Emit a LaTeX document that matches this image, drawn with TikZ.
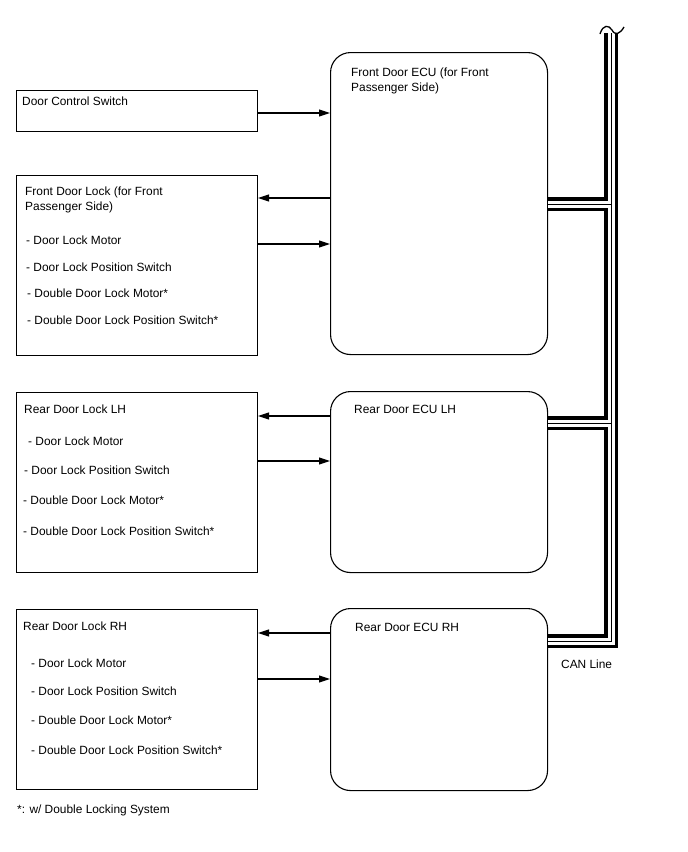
\documentclass[tikz,border=0pt]{standalone}
\usepackage{fontspec}
\setmainfont{Liberation Sans}
\usetikzlibrary{arrows.meta,calc}
\begin{document}
\begin{tikzpicture}[x=1pt,y=-1pt,
  box/.style={draw,line width=1.1pt,minimum width=241pt,anchor=north west,inner sep=0pt},
  ecu/.style={draw,line width=1.1pt,rounded corners=20pt,minimum width=217pt,anchor=north west,inner sep=0pt},
  txt/.style={anchor=base west,inner sep=0pt,font=\fontsize{11.9}{14}\selectfont},
  arr/.style={line width=1.1pt,-{Triangle[length=11pt,width=7pt]}},
  busblack/.style={line width=14.5pt,line join=miter},
  buswhite/.style={white,line width=7pt,line join=miter},
  busthin/.style={line width=0.9pt,line join=miter}
]
\useasboundingbox (0,0) rectangle (688,852);
% boxes
\node[box,minimum height=41pt] (dcs) at (16,90) {};
\node[box,minimum height=180pt] (fdl) at (16,175) {};
\node[box,minimum height=180pt] (rdll) at (16,392) {};
\node[box,minimum height=180pt] (rdlr) at (16,609) {};
\node[ecu,minimum height=302pt] (fecu) at (330,52) {};
\node[ecu,minimum height=181pt] (recul) at (330,391) {};
\node[ecu,minimum height=182pt] (recur) at (330,608) {};
% texts
\node[txt] (t1) at (22,105) {Door Control Switch};
\node[txt] (t2) at (25,195) {Front Door Lock (for Front};
\node[txt] (t3) at (25,210) {Passenger Side)};
\node[txt] (t4) at (26,244) {- Door Lock Motor};
\node[txt] (t5) at (26,271) {- Door Lock Position Switch};
\node[txt] (t6) at (27,297) {- Double Door Lock Motor*};
\node[txt] (t7) at (27,324) {- Double Door Lock Position Switch*};
\node[txt] (e1) at (351,76) {Front Door ECU (for Front};
\node[txt] (e2) at (351,91) {Passenger Side)};
\node[txt] (l1) at (24,413) {Rear Door Lock LH};
\node[txt] (l2) at (28,445) {- Door Lock Motor};
\node[txt] (l3) at (24,474) {- Door Lock Position Switch};
\node[txt] (l4) at (23,504) {- Double Door Lock Motor*};
\node[txt] (l5) at (23,535) {- Double Door Lock Position Switch*};
\node[txt] (e3) at (354,413) {Rear Door ECU LH};
\node[txt] (r1) at (23,630) {Rear Door Lock RH};
\node[txt] (r2) at (31,667) {- Door Lock Motor};
\node[txt] (r3) at (31,695) {- Door Lock Position Switch};
\node[txt] (r4) at (31,724) {- Double Door Lock Motor*};
\node[txt] (r5) at (31,754) {- Double Door Lock Position Switch*};
\node[txt] (e4) at (355,631) {Rear Door ECU RH};
\node[txt] (can) at (561,668) {CAN Line};
\node[txt] (fn) at (17,813) {*: w/ Double Locking System};
% arrows
\draw[arr] (dcs.east |- 0,113) -- (fecu.west |- 0,113);
\draw[arr] (fecu.west |- 0,198) -- (fdl.east |- 0,198);
\draw[arr] (fdl.east |- 0,244) -- (fecu.west |- 0,244);
\draw[arr] (recul.west |- 0,416) -- (rdll.east |- 0,416);
\draw[arr] (rdll.east |- 0,461) -- (recul.west |- 0,461);
\draw[arr] (recur.west |- 0,633) -- (rdlr.east |- 0,633);
\draw[arr] (rdlr.east |- 0,679) -- (recur.west |- 0,679);
% CAN bus
\coordinate (btop) at (611,33);
\coordinate (bcorner) at (611,641);
\coordinate (bj1) at (611,204);
\coordinate (bj2) at (611,423);
\def\buspath{(btop) -- (bcorner) -- (recur.east |- bcorner) (fecu.east |- bj1) -- (bj1) (recul.east |- bj2) -- (bj2)}
\draw[busblack] \buspath;
\draw[buswhite] \buspath;
\draw[busthin] \buspath;
\draw[line width=1.3pt] (600,34) .. controls (603,24) and (609,25) .. (612,30) .. controls (615,36) and (620,34) .. (624,27);
\end{tikzpicture}
\end{document}
